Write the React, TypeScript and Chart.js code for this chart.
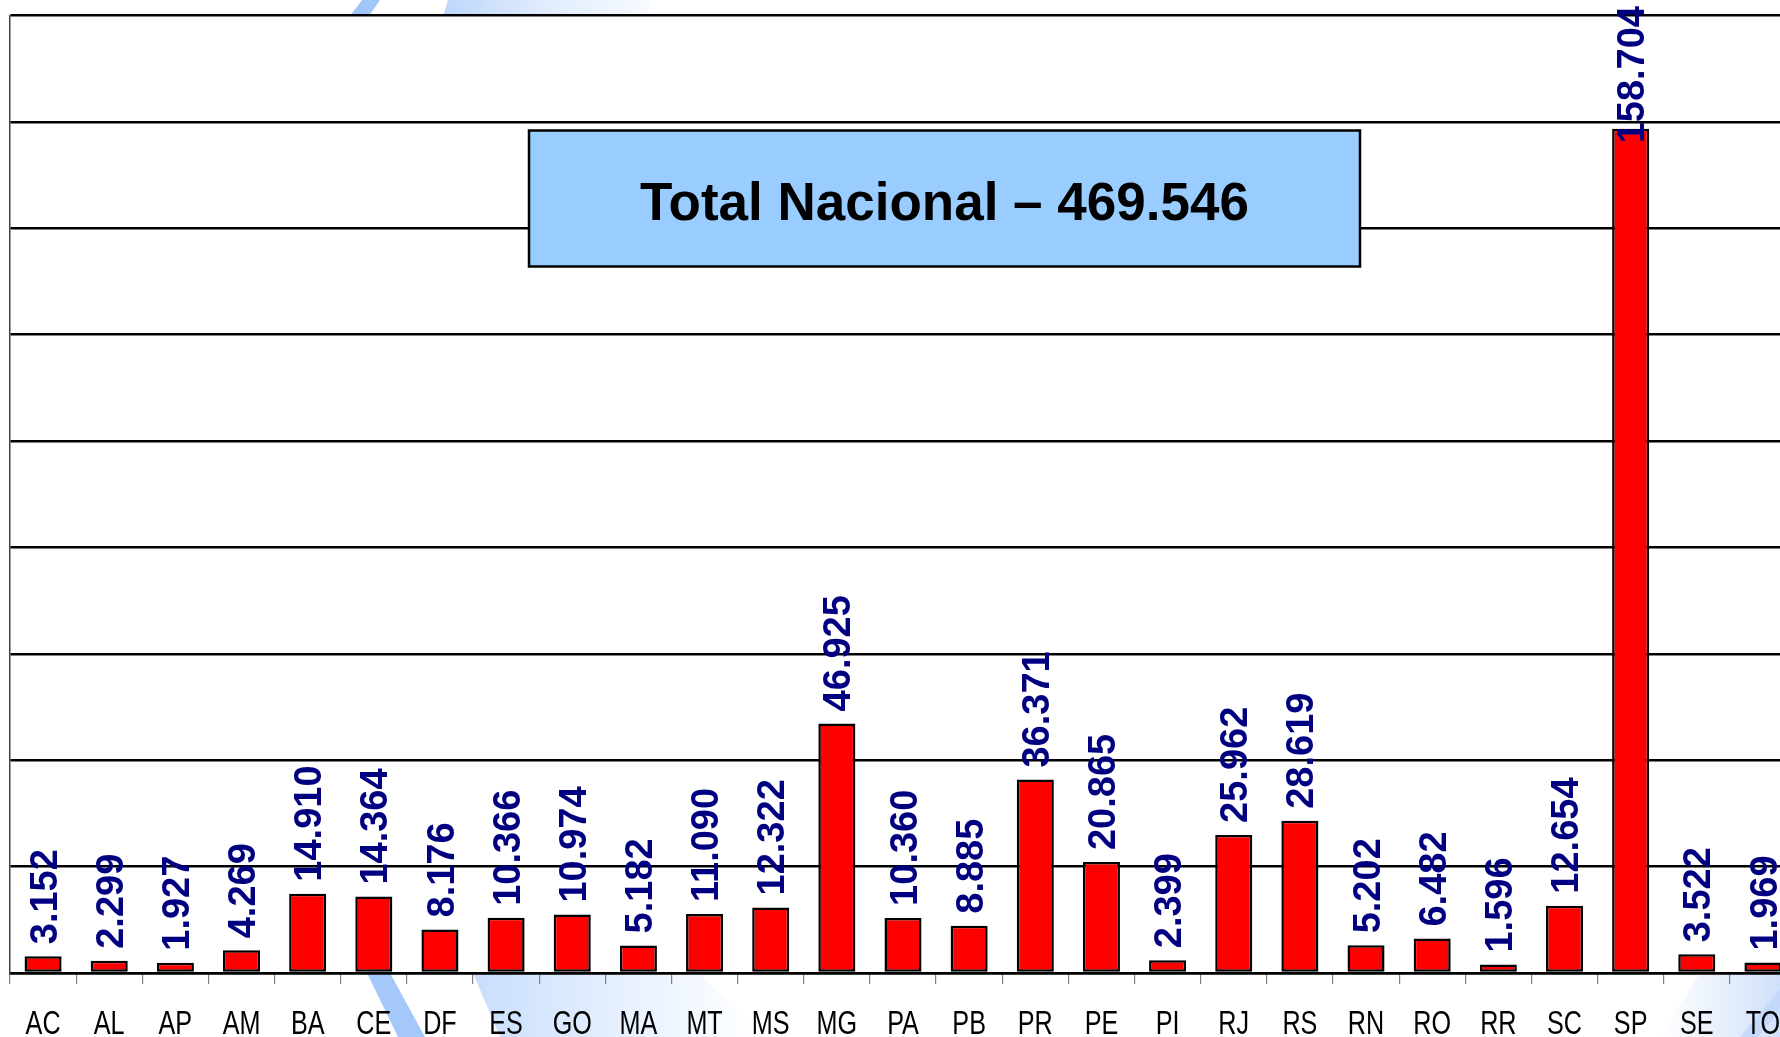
import React, { useEffect, useRef } from "react";
import { Chart, registerables } from "chart.js";

Chart.register(...registerables);

const categories = [
  "AC", "AL", "AP", "AM", "BA", "CE", "DF", "ES", "GO", "MA", "MT", "MS", "MG", "PA",
  "PB", "PR", "PE", "PI", "RJ", "RS", "RN", "RO", "RR", "SC", "SP", "SE", "TO",
];
const values = [
  3.152, 2.299, 1.927, 4.269, 14.91, 14.364, 8.176, 10.366, 10.974, 5.182, 11.09, 12.322, 46.925, 10.36,
  8.885, 36.371, 20.865, 2.399, 25.962, 28.619, 5.202, 6.482, 1.596, 12.654, 158.704, 3.522, 1.969,
];
const yMin = 0;
const yMax = 180;
const yStep = 20;
const totalLabel = "Total Nacional – 469.546";

type Pt = [number, number];

function poly(ctx: CanvasRenderingContext2D, pts: Pt[], fill: string | CanvasGradient) {
  ctx.beginPath();
  ctx.moveTo(pts[0][0], pts[0][1]);
  for (let i = 1; i < pts.length; i++) ctx.lineTo(pts[i][0], pts[i][1]);
  ctx.closePath();
  ctx.fillStyle = fill;
  ctx.fill();
}

export default function App() {
  const ref = useRef<HTMLCanvasElement>(null);

  useEffect(() => {
    const canvas = ref.current!;

    const decor = {
      id: "decor",
      beforeDraw(chart: any) {
        const ctx: CanvasRenderingContext2D = chart.ctx;
        ctx.save();
        ctx.fillStyle = "#ffffff";
        ctx.fillRect(0, 0, chart.width, chart.height);
        poly(ctx, [[362, 0], [380, 0], [369, 16], [350, 16]], "rgb(160,198,250)");
        let g = ctx.createLinearGradient(443, 0, 652, 0);
        g.addColorStop(0, "rgb(190,215,252)");
        g.addColorStop(0.5, "rgb(225,236,252)");
        g.addColorStop(1, "rgb(248,251,255)");
        poly(ctx, [[448, 0], [652, 0], [646, 16], [443, 16]], g);
        poly(ctx, [[367, 973], [390, 973], [425, 1037], [398, 1037]], "rgb(165,200,250)");
        g = ctx.createLinearGradient(473, 0, 760, 0);
        g.addColorStop(0, "rgb(200,222,252)");
        g.addColorStop(0.6, "rgb(235,243,255)");
        g.addColorStop(1, "rgb(255,255,255)");
        poly(ctx, [[473, 973], [700, 973], [760, 1037], [500, 1037]], g);
        g = ctx.createLinearGradient(1660, 0, 1790, 0);
        g.addColorStop(0, "rgb(255,255,255)");
        g.addColorStop(1, "rgb(205,222,250)");
        poly(ctx, [[1660, 1037], [1800, 1037], [1800, 973], [1700, 973]], g);
        poly(ctx, [[1740, 1037], [1758, 1037], [1800, 985], [1800, 965]], "rgba(190,212,250,0.7)");
        const a = chart.chartArea;
        ctx.fillStyle = "#ffffff";
        ctx.fillRect(a.left, a.top, a.right - a.left, a.bottom - a.top);
        ctx.restore();
      },
    };

    const dataLabels = {
      id: "dataLabels",
      afterDatasetsDraw(chart: any) {
        const ctx: CanvasRenderingContext2D = chart.ctx;
        const meta = chart.getDatasetMeta(0);
        const fontSize = 38;
        ctx.save();
        ctx.font = `bold ${fontSize}px "Liberation Sans", Arial, sans-serif`;
        ctx.fillStyle = "#000080";
        ctx.textAlign = "left";
        ctx.textBaseline = "alphabetic";
        const cap = fontSize * 0.716;
        meta.data.forEach((bar: any, i: number) => {
          const text = values[i].toFixed(3);
          const w = ctx.measureText(text).width;
          let bottom = bar.y - 12;
          if (bottom - w < 6) bottom = 6 + w;
          ctx.save();
          ctx.translate(bar.x + cap / 2, bottom);
          ctx.rotate(-Math.PI / 2);
          ctx.fillText(text, 0, 0);
          ctx.restore();
        });
        ctx.restore();
      },
    };

    const xLabels = {
      id: "xLabels",
      afterDraw(chart: any) {
        const ctx: CanvasRenderingContext2D = chart.ctx;
        const xs = chart.scales.x;
        ctx.save();
        ctx.font = `34px "Liberation Sans", Arial, sans-serif`;
        ctx.fillStyle = "#000000";
        ctx.textAlign = "center";
        ctx.textBaseline = "alphabetic";
        categories.forEach((c, i) => {
          const x = xs.getPixelForValue(i);
          ctx.save();
          ctx.translate(x, 1034);
          ctx.scale(0.74, 1);
          ctx.fillText(c, 0, 0);
          ctx.restore();
        });
        ctx.restore();
      },
    };

    const totalBox = {
      id: "totalBox",
      afterDraw(chart: any) {
        const ctx: CanvasRenderingContext2D = chart.ctx;
        ctx.save();
        const x = 529, y = 130.5, w = 831, h = 136;
        ctx.fillStyle = "#99CCFF";
        ctx.fillRect(x, y, w, h);
        ctx.strokeStyle = "#000000";
        ctx.lineWidth = 2.5;
        ctx.strokeRect(x, y, w, h);
        ctx.fillStyle = "#000000";
        ctx.font = `bold 53px "Liberation Sans", Arial, sans-serif`;
        ctx.textAlign = "center";
        ctx.textBaseline = "alphabetic";
        ctx.fillText(totalLabel, x + w / 2, 219.5);
        ctx.restore();
      },
    };

    const chart = new Chart(canvas, {
      type: "bar",
      data: {
        labels: categories,
        datasets: [
          {
            data: values,
            backgroundColor: "#FF0000",
            borderColor: "#000000",
            borderWidth: 2.5,
            borderSkipped: false,
            categoryPercentage: 1,
            barPercentage: 0.56,
          },
        ],
      },
      options: {
        animation: false,
        responsive: false,
        devicePixelRatio: 1,
        layout: { padding: { left: 10, right: 4, top: 15.5, bottom: 0 } },
        plugins: { legend: { display: false }, tooltip: { enabled: false }, title: { display: false } },
        scales: {
          x: {
            grid: {
              display: true,
              offset: true,
              drawOnChartArea: false,
              drawTicks: true,
              tickLength: 11,
              color: "#808080",
              lineWidth: 1.2,
            },
            border: { display: true, color: "#000000", width: 2.5 },
            ticks: { display: false, autoSkip: false },
            afterFit: (s: any) => {
              s.height = 64;
            },
          },
          y: {
            min: yMin,
            max: yMax,
            ticks: { display: false, stepSize: yStep },
            grid: { color: "#000000", lineWidth: 2.5, drawTicks: false },
            border: { display: true, color: "#404040", width: 1.5 },
            afterFit: (s: any) => {
              s.width = 0;
            },
          },
        },
      },
      plugins: [decor, dataLabels, xLabels, totalBox],
    });

    return () => chart.destroy();
  }, []);

  return (
    <div
      style={{
        position: "fixed",
        left: 0,
        top: 0,
        width: 1780,
        height: 1037,
        overflow: "hidden",
        background: "#ffffff",
      }}
    >
      <canvas ref={ref} width={1800} height={1037} style={{ display: "block", width: 1800, height: 1037 }} />
    </div>
  );
}
